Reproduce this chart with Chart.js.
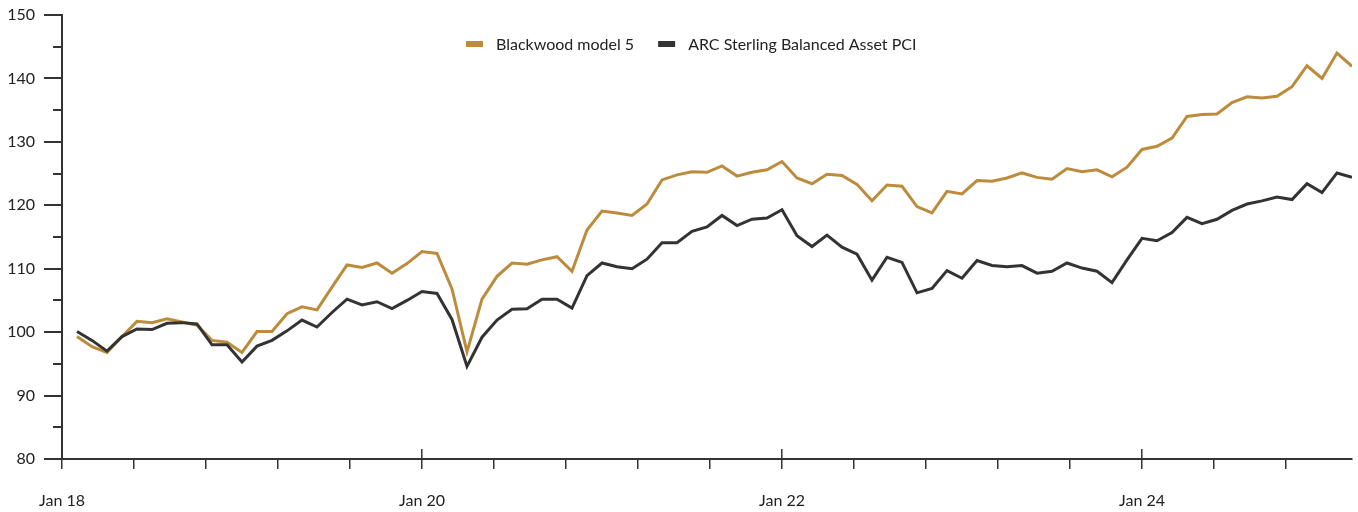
<!DOCTYPE html>
<html>
<head>
<meta charset="utf-8">
<script src="https://cdn.jsdelivr.net/npm/chart.js@4.4.1/dist/chart.umd.min.js"></script>
<style>
  html, body { margin: 0; padding: 0; background: #fff; }
</style>
</head>
<body>
<canvas id="perfChart" width="1358" height="512"></canvas>
<script>
// monthly index values, Feb 18 .. Mar 25 (x = months since Jan 18)
const firstMonth = 1;
const seriesNames = ['Blackwood model 5', 'ARC Sterling Balanced Asset PCI'];
const seriesColors = ['#BD8B3C', '#333333'];

const blackwood = [
  99.3, 97.7, 96.8, 99.3, 101.7, 101.5, 102.1, 101.6, 101.1, 98.7, 98.4, 96.8,
  100.1, 100.1, 102.9, 104.0, 103.5, 107.1, 110.6, 110.2, 110.9, 109.3, 110.8, 112.7,
  112.4, 106.8, 96.9, 105.2, 108.8, 110.9, 110.7, 111.4, 111.9, 109.6, 116.1, 119.1,
  118.8, 118.4, 120.2, 124.0, 124.8, 125.3, 125.2, 126.2, 124.6, 125.2, 125.6, 126.9,
  124.3, 123.4, 124.9, 124.7, 123.3, 120.7, 123.2, 123.0, 119.8, 118.8, 122.2, 121.8,
  123.9, 123.8, 124.3, 125.1, 124.4, 124.1, 125.8, 125.3, 125.6, 124.5, 126.0, 128.8,
  129.3, 130.6, 134.0, 134.3, 134.4, 136.2, 137.1, 136.9, 137.2, 138.7, 142.0, 140.0,
  144.0, 141.9
];
const arcBalanced = [
  100.1, 98.7, 97.0, 99.3, 100.5, 100.4, 101.4, 101.5, 101.3, 98.0, 98.0, 95.3,
  97.8, 98.7, 100.2, 101.9, 100.8, 103.1, 105.2, 104.3, 104.8, 103.7, 105.0, 106.4,
  106.1, 102.0, 94.6, 99.2, 101.9, 103.6, 103.7, 105.2, 105.2, 103.8, 108.9, 110.9,
  110.3, 110.0, 111.5, 114.1, 114.1, 115.9, 116.6, 118.4, 116.8, 117.8, 118.0, 119.3,
  115.2, 113.5, 115.3, 113.4, 112.3, 108.2, 111.8, 111.0, 106.2, 106.9, 109.7, 108.5,
  111.3, 110.5, 110.3, 110.5, 109.3, 109.6, 110.9, 110.1, 109.6, 107.8, 111.4, 114.8,
  114.4, 115.7, 118.1, 117.1, 117.8, 119.2, 120.2, 120.7, 121.3, 120.9, 123.4, 122.0,
  125.1, 124.4
];

const xTickLabels = ['Jan 18', 'Jan 20', 'Jan 22', 'Jan 24'];
const labelEvery = 24;      // months between labelled ticks
const xTickStep = 4.8;      // tick spacing on the date axis
const xMax = 86;
const yMin = 80, yMax = 150;

const axisColor = '#333333';
const fontFamily = 'Lato, "Liberation Sans", sans-serif';

function toPoints(arr) {
  return arr.map((v, i) => ({ x: firstMonth + i, y: v }));
}

// legend drawn inside the plot, near the top
const insideLegend = {
  id: 'insideLegend',
  afterDraw(chart) {
    const ctx = chart.ctx;
    let x = 466;
    const y = 44;
    ctx.save();
    ctx.font = '16px ' + fontFamily;
    ctx.textBaseline = 'middle';
    chart.data.datasets.forEach(d => {
      ctx.fillStyle = d.borderColor;
      ctx.fillRect(x, y - 3, 17, 6);
      x += 30;
      ctx.fillStyle = '#222';
      ctx.fillText(d.label, x, y + 1);
      x += ctx.measureText(d.label).width + 24;
    });
    ctx.restore();
  }
};

new Chart(document.getElementById('perfChart'), {
  type: 'line',
  data: {
    datasets: [
      { label: seriesNames[0], data: toPoints(blackwood), borderColor: seriesColors[0],
        backgroundColor: seriesColors[0], borderWidth: 3, pointRadius: 0, tension: 0, order: 1 },
      { label: seriesNames[1], data: toPoints(arcBalanced), borderColor: seriesColors[1],
        backgroundColor: seriesColors[1], borderWidth: 3, pointRadius: 0, tension: 0, order: 0 }
    ]
  },
  options: {
    responsive: false,
    animation: false,
    layout: { padding: { top: 15, right: 6, left: 0, bottom: 0 } },
    plugins: { legend: { display: false }, tooltip: { enabled: false } },
    scales: {
      x: {
        type: 'linear', position: 'bottom', weight: 1,
        min: 0, max: xMax,
        grid: { drawOnChartArea: false, tickLength: 10, color: axisColor, lineWidth: 1.5 },
        border: { display: true, color: axisColor, width: 2 },
        ticks: {
          stepSize: xTickStep, includeBounds: false, autoSkip: false, maxRotation: 0,
          padding: 22, color: '#222', font: { family: fontFamily, size: 16 },
          callback: v => (v % labelEvery === 0 ? xTickLabels[v / labelEvery] : '')
        },
        afterFit: s => { s.height = 53; }
      },
      xYear: {
        type: 'linear', position: 'bottom', weight: 0,
        min: 0, max: xMax,
        grid: { drawOnChartArea: false, tickLength: -10, color: axisColor, lineWidth: 1.5 },
        border: { display: false },
        ticks: { display: false },
        afterBuildTicks: s => { s.ticks = xTickLabels.map((_, i) => ({ value: i * labelEvery })); },
        afterFit: s => { s.height = 0; }
      },
      y: {
        position: 'left', weight: 1,
        min: yMin, max: yMax,
        grid: { drawOnChartArea: false, tickLength: 18, color: axisColor, lineWidth: 2 },
        border: { display: true, color: axisColor, width: 2 },
        ticks: { stepSize: 10, padding: 9, color: '#222', font: { family: fontFamily, size: 16 } },
        afterFit: s => { s.width = 62; s.paddingTop = 0; s.paddingBottom = 0; }
      },
      yMinor: {
        position: 'left', weight: 0,
        min: yMin, max: yMax,
        grid: { drawOnChartArea: false, tickLength: 9, color: axisColor, lineWidth: 2 },
        border: { display: false },
        ticks: { stepSize: 5, display: false },
        afterFit: s => { s.width = 0; s.paddingTop = 0; s.paddingBottom = 0; }
      }
    }
  },
  plugins: [insideLegend]
});
</script>
</body>
</html>
